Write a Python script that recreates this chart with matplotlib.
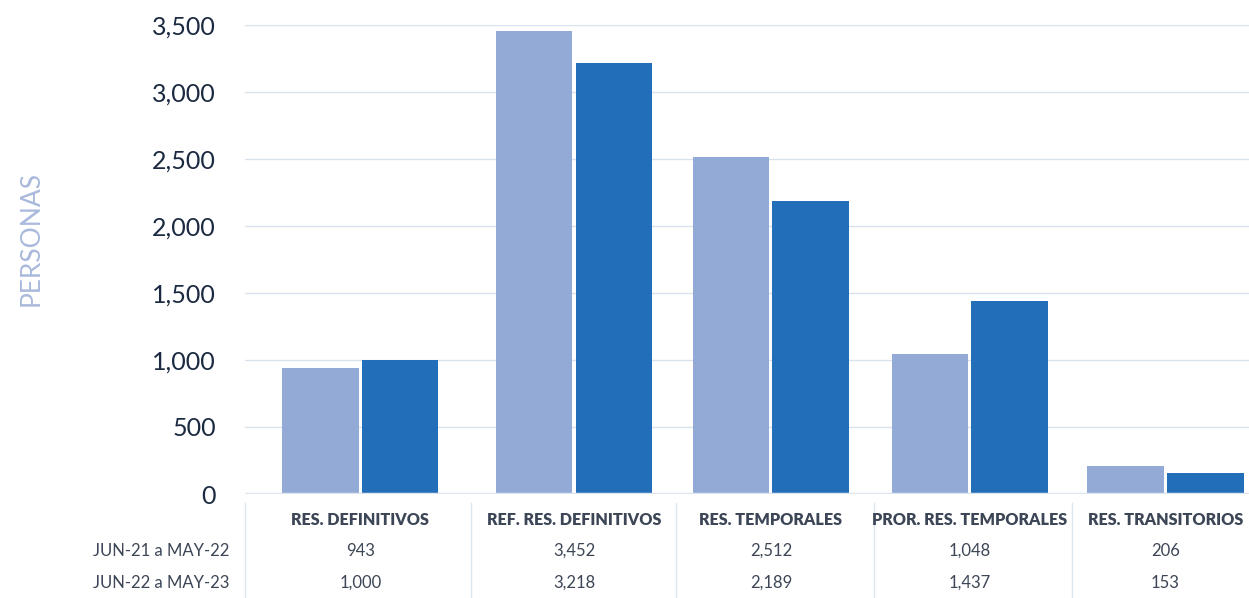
import matplotlib
matplotlib.use("Agg")
import matplotlib.pyplot as plt
import numpy as np

categorias = ["RES. DEFINITIVOS", "REF. RES. DEFINITIVOS", "RES. TEMPORALES",
              "PROR. RES. TEMPORALES", "RES. TRANSITORIOS"]
periodos = ["JUN-21 a MAY-22", "JUN-22 a MAY-23"]
valores_21_22 = [943, 3452, 2512, 1048, 206]
valores_22_23 = [1000, 3218, 2189, 1437, 153]
colores = ["#93aad6", "#236eb8"]

plt.rcParams['font.family'] = ['Lato', 'DejaVu Sans']

W, H = 1249, 598
fig = plt.figure(figsize=(W / 100, H / 100), dpi=100)
ax = fig.add_axes([245 / W, 1 - 494 / H, 1 - 245 / W, (494 - 25) / H])

# posiciones de los grupos (px del original / 199)
x = np.array([0.0, 1.075, 2.065, 3.065, 4.05])
ancho = 0.385
ax.bar(x - ancho / 2 - 0.008, valores_21_22, ancho, color=colores[0], zorder=3)
ax.bar(x + ancho / 2 + 0.008, valores_22_23, ancho, color=colores[1], zorder=3)

ax.set_xlim(-0.58, 4.47)
ax.set_ylim(0, 3500)
ax.set_yticks(np.arange(0, 3501, 500))
ax.set_yticklabels([f"{v:,}" for v in range(0, 3501, 500)], fontsize=18, color="#1b2a41")
ax.tick_params(axis="y", length=0, pad=21)
ax.set_xticks([])
ax.grid(axis="y", color="#d8e2ee", linewidth=1, zorder=0)
for s in ax.spines.values():
    s.set_visible(False)
ax.axhline(0, color="#dbe4ef", linewidth=2.5, zorder=4)

fig.text(31 / W, 1 - 238 / H, "PERSONAS", rotation=90, ha="center", va="center",
         fontsize=19, color="#a9b9dc")

# tabla de datos
pos = ax.get_position()
def a_ejes(yf):
    return (yf - pos.y0) / pos.height

trans = ax.get_xaxis_transform()
fila_y = [1 - 520 / H, 1 - 551 / H, 1 - 583 / H]
for i, cat in enumerate(categorias):
    ax.text(x[i], a_ejes(fila_y[0]), cat, transform=trans, ha="center", va="center",
            fontsize=11.6, fontweight="heavy", color="#3c4656", clip_on=False)
    for j, serie in enumerate([valores_21_22, valores_22_23]):
        ax.text(x[i], a_ejes(fila_y[j + 1]), f"{serie[i]:,}", transform=trans,
                ha="center", va="center", fontsize=12, color="#3c4656", clip_on=False)
for j, p in enumerate(periodos):
    fig.text(229 / W, fila_y[j + 1], p, ha="right", va="center", fontsize=12,
             color="#3c4656")

# separadores verticales
y0 = a_ejes(0)
y1 = a_ejes(1 - 503 / H)
for xs in [-0.58] + list((x[:-1] + x[1:]) / 2 + 0.02):
    ax.plot([xs, xs], [y0, y1], transform=trans, color="#dde5ef", linewidth=1,
            clip_on=False)

fig.savefig("out.png", dpi=100)
